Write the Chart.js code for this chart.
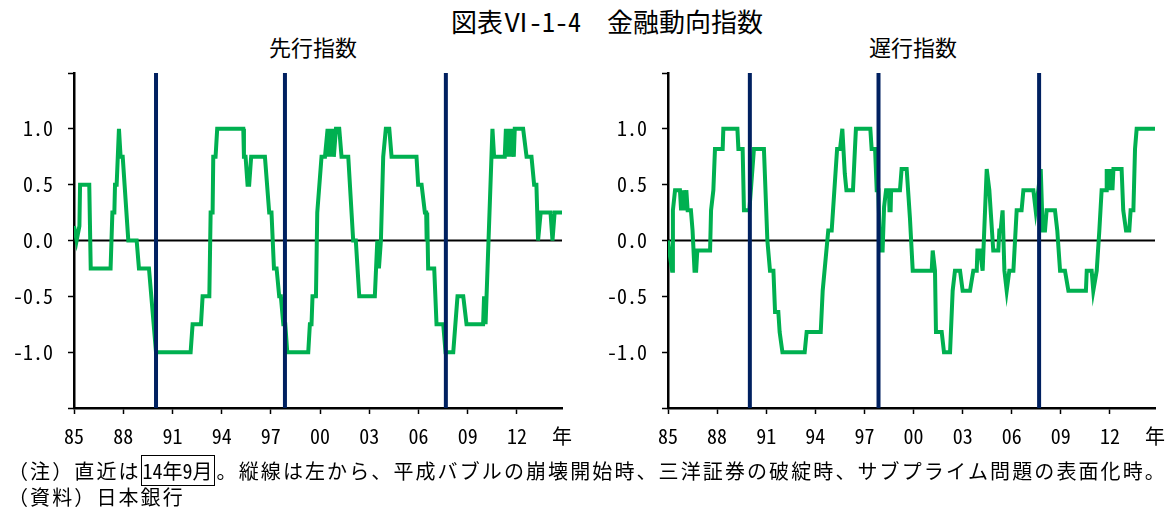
<!DOCTYPE html>
<html>
<head>
<meta charset="utf-8">
<script src="https://cdn.jsdelivr.net/npm/chart.js@4.4.1/dist/chart.umd.min.js"></script>
<style>
  body { margin: 0; width: 1166px; height: 512px; background: #fff; position: relative; overflow: hidden;
         font-family: "Noto Sans Mono CJK JP", "Noto Sans CJK JP", sans-serif; color: #000; }
  .title { position: absolute; top: 4px; left: 0; width: 1214px; text-align: center; font-size: 26px; line-height: 34px; }
  .sub { position: absolute; top: 31px; font-size: 22px; line-height: 30px; width: 200px; text-align: center; }
  .chartBox { position: absolute; top: 60px; width: 583px; height: 400px; }
  .note { position: absolute; left: 8px; font-size: 20px; line-height: 26px; white-space: nowrap; letter-spacing: 2.1px; }
  .boxed { border: 1.5px solid #000; padding: 0 1px; letter-spacing: 0; margin-right: 2px; }
</style>
</head>
<body>
<div class="title">図表Ⅵ-1-4　金融動向指数</div>
<div class="sub" style="left:213px">先行指数</div>
<div class="sub" style="left:813px">遅行指数</div>
<div class="chartBox" style="left:0"><canvas id="chartLead" width="583" height="400"></canvas></div>
<div class="chartBox" style="left:583px"><canvas id="chartLag" width="583" height="400"></canvas></div>
<div class="note" style="top:458px">（注）直近は<span class="boxed">14年9月</span>。縦線は左から、平成バブルの崩壊開始時、三洋証券の破綻時、サブプライム問題の表面化時。</div>
<div class="note" style="top:484px">（資料）日本銀行</div>
<script>
// breakpoints of the step lines, as fractional years
const leadX = [1985.00, 1985.16, 1985.33, 1985.37, 1985.93, 1986.02, 1987.23, 1987.34, 1987.46, 1987.50,
  1987.60, 1987.74, 1987.84, 1987.97, 1988.31, 1988.82, 1988.96, 1989.57, 1990.00, 1992.11,
  1992.23, 1992.74, 1992.84, 1993.25, 1993.33, 1993.45, 1993.49, 1993.63, 1993.73, 1995.32,
  1995.36, 1995.46, 1995.58, 1995.68, 1995.80, 1996.64, 1996.90, 1997.04, 1997.19, 1997.35,
  1997.51, 1997.61, 1997.76, 1997.88, 1998.00, 1999.28, 1999.38, 1999.48, 1999.54, 1999.75,
  1999.83, 2000.09, 2000.30, 2000.46, 2000.54, 2000.60, 2000.70, 2000.76, 2000.84, 2000.97,
  2001.17, 2001.31, 2001.72, 2002.02, 2002.18, 2002.39, 2003.34, 2003.49, 2003.59, 2003.71,
  2003.85, 2004.01, 2004.22, 2004.36, 2005.88, 2005.98, 2006.19, 2006.39, 2006.47, 2006.50,
  2006.53, 2006.59, 2006.96, 2007.10, 2007.51, 2007.65, 2008.12, 2008.38, 2008.73, 2008.93,
  2009.94, 2010.00, 2010.09, 2010.51, 2010.61, 2011.26, 2011.33, 2011.41, 2011.47, 2011.57,
  2011.67, 2011.81, 2011.87, 2012.38, 2012.59, 2012.89, 2013.05, 2013.19, 2013.29, 2013.45,
  2014.05, 2014.17, 2014.30, 2014.75];
const leadY = [0.13, 0, 0.13, 0.5, 0.5, -0.25, -0.25, 0.25, 0.25, 0.5,
  0.5, 1.0, 0.75, 0.75, 0, 0, -0.25, -0.25, -1.0, -1.0,
  -0.75, -0.75, -0.5, -0.5, 0.25, 0.25, 0.75, 0.75, 1.0, 1.0,
  0.75, 0.75, 0.5, 0.5, 0.75, 0.75, 0.25, 0.25, -0.25, -0.25,
  -0.5, -0.5, -0.75, -0.75, -1.0, -1.0, -0.75, -0.75, -0.5, -0.5,
  0.25, 0.75, 0.75, 1.0, 0.75, 1.0, 0.75, 1.0, 0.75, 1.0,
  1.0, 0.75, 0.75, 0, 0, -0.5, -0.5, 0, -0.25, 0,
  0.75, 1.0, 1.0, 0.75, 0.75, 0.5, 0.5, 0.25, 0.25, 0,
  0.25, -0.25, -0.25, -0.75, -0.75, -1.0, -1.0, -0.5, -0.5, -0.75,
  -0.75, -0.5, -0.75, 1.0, 0.75, 0.75, 1.0, 0.75, 1.0, 0.75,
  1.0, 0.75, 1.0, 1.0, 0.75, 0.75, 0.5, 0.5, 0, 0.25,
  0.25, 0, 0.25, 0.25];

const lagX = [1985.00, 1985.14, 1985.25, 1985.30, 1985.43, 1985.73, 1985.80, 1985.86, 1985.92, 1985.98,
  1986.06, 1986.12, 1986.20, 1986.40, 1986.50, 1986.62, 1986.72, 1986.79, 1987.57, 1987.63,
  1987.77, 1987.87, 1988.34, 1988.38, 1989.24, 1989.30, 1989.56, 1989.64, 1989.97, 1990.25,
  1990.86, 1991.07, 1991.23, 1991.44, 1991.54, 1991.74, 1991.82, 1991.99, 1993.35, 1993.47,
  1994.33, 1994.45, 1994.79, 1995.00, 1995.33, 1995.51, 1995.65, 1995.80, 1995.90, 1996.30,
  1996.42, 1996.48, 1997.36, 1997.44, 1997.65, 1997.75, 1997.85, 1997.95, 1998.11, 1998.20,
  1998.32, 1998.50, 1998.53, 1998.60, 1998.63, 1999.17, 1999.27, 1999.58, 1999.78, 1999.95,
  2001.11, 2001.17, 2001.31, 2001.37, 2001.72, 2001.86, 2002.23, 2002.39, 2002.53, 2002.84,
  2003.00, 2003.45, 2003.65, 2003.86, 2003.90, 2004.06, 2004.22, 2004.47, 2004.63, 2004.87,
  2005.18, 2005.24, 2005.32, 2005.44, 2005.55, 2005.69, 2005.85, 2006.10, 2006.30, 2006.60,
  2006.71, 2007.32, 2007.46, 2007.62, 2007.77, 2007.89, 2008.03, 2008.13, 2008.64, 2008.78,
  2008.95, 2009.25, 2009.46, 2010.53, 2010.58, 2010.88, 2010.98, 2011.19, 2011.35, 2011.49,
  2011.76, 2011.80, 2011.86, 2011.92, 2012.00, 2012.07, 2012.15, 2012.21, 2012.27, 2012.71,
  2012.81, 2012.98, 2013.18, 2013.26, 2013.43, 2013.53, 2013.63, 2014.75];
const lagY = [0, -0.16, -0.27, 0.27, 0.45, 0.45, 0.27, 0.45, 0.27, 0.45,
  0.27, 0.45, 0.27, 0.27, 0.09, -0.27, -0.27, -0.09, -0.09, 0.27,
  0.45, 0.82, 0.82, 1.0, 1.0, 0.82, 0.82, 0.27, 0.27, 0.82,
  0.82, 0, -0.27, -0.27, -0.64, -0.64, -0.82, -1.0, -1.0, -0.82,
  -0.82, -0.45, 0.09, 0.09, 0.82, 0.82, 1.0, 0.6, 0.45, 0.45,
  0.82, 1.0, 1.0, 0.82, 0.82, 0.45, 0.45, -0.09, -0.09, 0.3,
  0.45, 0.45, 0.27, 0.27, 0.45, 0.45, 0.64, 0.64, 0.2, -0.27,
  -0.27, -0.09, -0.27, -0.82, -0.82, -1.0, -1.0, -0.45, -0.27, -0.27,
  -0.45, -0.45, -0.27, -0.27, -0.09, -0.09, -0.27, 0.64, 0.45, -0.09,
  -0.09, 0.09, 0.09, 0.27, -0.27, -0.45, -0.27, -0.27, 0.27, 0.27,
  0.45, 0.45, 0.27, 0.45, 0.64, 0.09, 0.09, 0.27, 0.27, 0.09,
  -0.27, -0.27, -0.45, -0.45, -0.27, -0.27, -0.45, -0.27, 0.09, 0.45,
  0.45, 0.64, 0.45, 0.64, 0.45, 0.64, 0.45, 0.64, 0.64, 0.64,
  0.27, 0.09, 0.09, 0.27, 0.27, 0.82, 1.0, 1.0];

// vertical markers: bubble burst, Sanyo Securities, subprime
const eventYears = [1990.0, 1997.86, 2007.67];

const xMin = 1985;
const xMax = 2014.75;
const xTickValues = [1985, 1988, 1991, 1994, 1997, 2000, 2003, 2006, 2009, 2012, 2014.75];
const xTickLabels = ["85", "88", "91", "94", "97", "00", "03", "06", "09", "12", "年"];
const yTickValues = [-1.5, -1.0, -0.5, 0, 0.5, 1.0, 1.5];
const yTickLabels = ["", "-1.0", "-0.5", "0.0", "0.5", "1.0", ""];

const tickFont = { family: "'Noto Sans Mono CJK JP', 'Noto Sans CJK JP'", size: 20 };

function toPoints(xs, ys) {
  return xs.map((x, i) => ({ x: x, y: ys[i] }));
}

function buildDatasets(xs, ys) {
  const sets = [];
  sets.push({
    data: [{ x: xMin, y: 0 }, { x: xMax, y: 0 }],
    borderColor: "#000000",
    borderWidth: 2,
    order: 3,
  });
  sets.push({
    data: toPoints(xs, ys),
    borderColor: "#00b050",
    borderWidth: 4,
    borderJoinStyle: "miter",
    order: 2,
  });
  eventYears.forEach((yr) => {
    sets.push({
      data: [{ x: yr, y: -1.5 }, { x: yr, y: 1.5 }],
      borderColor: "#002060",
      borderWidth: 4,
      order: 1,
    });
  });
  return sets;
}

function makeChart(canvasId, xs, ys, yAxisWidth, rightPad) {
  return new Chart(document.getElementById(canvasId), {
    type: "scatter",
    data: { datasets: buildDatasets(xs, ys) },
    options: {
      responsive: false,
      animation: false,
      showLine: true,
      elements: { point: { radius: 0 }, line: { tension: 0 } },
      layout: { padding: { top: 13, right: rightPad, bottom: 0, left: 0 } },
      plugins: { legend: { display: false }, tooltip: { enabled: false } },
      scales: {
        x: {
          type: "linear",
          min: xMin,
          max: xMax,
          afterBuildTicks: (scale) => {
            scale.ticks = xTickValues.map((v) => ({ value: v }));
          },
          afterFit: (scale) => {
            scale.height = 52;
            scale.paddingLeft = 0;
            scale.paddingRight = 0;
          },
          border: { display: true, color: "#000", width: 2.5 },
          grid: {
            drawOnChartArea: false,
            drawTicks: true,
            tickLength: 6,
            tickWidth: 1.5,
            tickColor: (ctx) => (ctx.tick && ctx.tick.value === xMax ? "rgba(0,0,0,0)" : "#000"),
          },
          ticks: {
            autoSkip: false,
            maxRotation: 0,
            padding: 10,
            color: "#000",
            font: tickFont,
            callback: (v) => xTickLabels[xTickValues.indexOf(v)],
          },
        },
        y: {
          min: -1.5,
          max: 1.5,
          afterBuildTicks: (scale) => {
            scale.ticks = yTickValues.map((v) => ({ value: v }));
          },
          afterFit: (scale) => {
            scale.width = yAxisWidth;
            scale.paddingTop = 0;
            scale.paddingBottom = 0;
          },
          border: { display: true, color: "#000", width: 2.5 },
          grid: {
            drawOnChartArea: false,
            drawTicks: true,
            tickLength: 6,
            tickWidth: 1.5,
            tickColor: "#000",
          },
          ticks: {
            padding: 15,
            color: "#000",
            font: tickFont,
            callback: (v) => yTickLabels[yTickValues.indexOf(v)],
          },
        },
      },
    },
  });
}

makeChart("chartLead", leadX, leadY, 74, 21);
makeChart("chartLag", lagX, lagY, 85, 11);
</script>
</body>
</html>
